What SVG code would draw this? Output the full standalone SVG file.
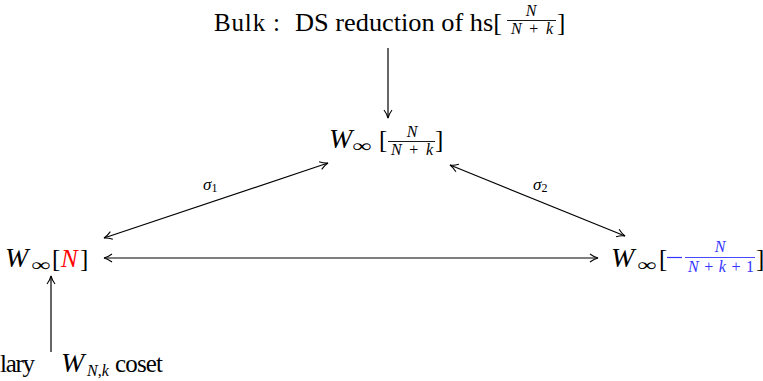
<svg xmlns="http://www.w3.org/2000/svg" width="763" height="381" viewBox="0 0 763 381" font-family="'Liberation Serif', serif">
<style>
text{font-family:"Liberation Serif",serif;fill:#000}
.m{font-size:25px}
.f{font-size:16px;font-style:italic}
.w{font-style:italic;font-size:28px}
.i{font-size:18px}
.s{font-size:17px;font-style:italic}
.sub{font-size:12px;font-style:normal}
.e{stroke:#000;stroke-width:1.2;fill:none}
.bar{stroke:#000;stroke-width:0.9}
.blue{fill:#3333ff}
</style>
<defs>
<marker id="ah" viewBox="0 0 10 10" refX="9" refY="5" markerWidth="10" markerHeight="10" markerUnits="userSpaceOnUse" orient="auto-start-reverse">
<path d="M1,1 Q5,4 9,5 Q5,6 1,9" fill="none" stroke="#000" stroke-width="1.1"/>
</marker>
</defs>
<g id="connectors">
<line class="e" x1="388" y1="48" x2="388" y2="118" marker-end="url(#ah)"/>
<line class="e" x1="104" y1="238" x2="328" y2="163" marker-start="url(#ah)" marker-end="url(#ah)"/>
<line class="e" x1="450" y1="165" x2="625" y2="236" marker-start="url(#ah)" marker-end="url(#ah)"/>
<line class="e" x1="104" y1="258" x2="598" y2="258" marker-start="url(#ah)" marker-end="url(#ah)"/>
<line class="e" x1="51" y1="352" x2="51" y2="276" marker-end="url(#ah)"/>
<text class="s" x="203" y="190">σ<tspan class="sub" dy="2">1</tspan></text>
<text class="s" x="533" y="190">σ<tspan class="sub" dy="2">2</tspan></text>
</g>
<g id="bulk">
<text class="m" x="214" y="31" textLength="66" lengthAdjust="spacing">Bulk :</text>
<text class="m" x="295" y="31" textLength="207" lengthAdjust="spacingAndGlyphs">DS reduction of hs[</text>
<text class="f" x="531" y="16" text-anchor="middle">N</text>
<line class="bar" x1="507" y1="20.5" x2="556" y2="20.5"/>
<text class="f" x="511" y="34" textLength="42" lengthAdjust="spacing">N<tspan font-style="normal">+</tspan>k</text>
<text class="m" x="557" y="31">]</text>
</g>
<g id="wmid">
<text class="w" x="329" y="148">W</text>
<text class="i" x="352" y="152" textLength="19" lengthAdjust="spacingAndGlyphs">∞</text>
<text class="m" x="379" y="148">[</text>
<text class="f" x="412" y="137" text-anchor="middle">N</text>
<line class="bar" x1="388" y1="141.5" x2="435" y2="141.5"/>
<text class="f" x="391" y="155" textLength="42" lengthAdjust="spacing">N<tspan font-style="normal">+</tspan>k</text>
<text class="m" x="435" y="148">]</text>
</g>
<g id="wleft">
<text class="w" x="5" y="267">W</text>
<text class="i" x="31" y="271" textLength="19" lengthAdjust="spacingAndGlyphs">∞</text>
<text class="m" x="52" y="267">[</text>
<text class="m" x="61" y="267" font-style="italic" style="fill:#ff0000">N</text>
<text class="m" x="80" y="267">]</text>
</g>
<g id="wright">
<text class="w" x="611" y="267">W</text>
<text class="i" x="637" y="271" textLength="19" lengthAdjust="spacingAndGlyphs">∞</text>
<text class="m" x="659" y="267">[</text>
<line x1="667" y1="257.5" x2="682" y2="257.5" stroke="#3333ff" stroke-width="1.2"/>
<text class="f blue" x="720" y="252" text-anchor="middle">N</text>
<line x1="685" y1="257.5" x2="755" y2="257.5" stroke="#3333ff" stroke-width="0.9"/>
<text class="f blue" x="688" y="272" textLength="66" lengthAdjust="spacing">N<tspan font-style="normal">+</tspan>k<tspan font-style="normal">+1</tspan></text>
<text class="m" x="756" y="267">]</text>
</g>
<g id="boundary">
<text class="m" x="0" y="372" textLength="35" lengthAdjust="spacing">lary</text>
<text class="w" x="61" y="372">W</text>
<text class="f" x="87" y="376" font-size="13">N<tspan font-style="normal">,</tspan>k</text>
<text class="m" x="115" y="372" textLength="48" lengthAdjust="spacing">coset</text>
</g>
</svg>
